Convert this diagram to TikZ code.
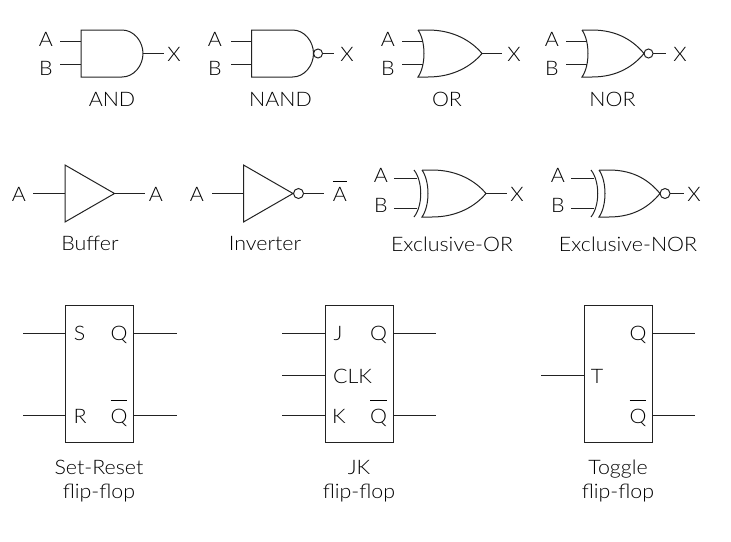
\documentclass[tikz,border=0pt]{standalone}
\usepackage{fontspec}
\setmainfont{Lato Light}[FakeStretch=1.07]
\definecolor{ink}{HTML}{222222}
\newcommand{\overbar}[2][5]{\vbox{\hrule height 0.8pt\kern #1pt\hbox{#2}}}
% OR outline, #1 is the x of the tip
\newcommand{\orbody}[1]{
  \draw[wire] (0,-23.5) -- (10,-23.5)
    .. controls (36,-23.5) and ({#1-10},-12) .. (#1,0)
    .. controls ({#1-10},12) and (36,23.5) .. (10,23.5)
    -- (0,23.5) .. controls (8,12) and (8,-12) .. (0,-23.5);
}
\tikzset{
  wire/.style={draw=ink,line width=1pt},
  pinlabel/.style={text=black,font=\fontsize{20}{24}\selectfont,inner sep=0pt,anchor=base},
  caption/.style={pinlabel,align=center},
  ffbox/.style={draw=ink,line width=1pt,inner sep=0pt,outer sep=0pt,minimum width=68pt,minimum height=137pt},
  andback/.pic={
    \draw[wire] (41,-23.5) -- (0,-23.5) -- (0,23.5) -- (41,23.5)
      .. controls (53,23.5) and (62,12) .. (62,0)
      .. controls (62,-12) and (53,-23.5) .. (41,-23.5);
  },
  andgate/.pic={
    \pic {andback};
    \coordinate (-a) at (0,-12);
    \coordinate (-b) at (0,10.5);
    \coordinate (-x) at (62,0);
  },
  nandgate/.pic={
    \pic {andback};
    \draw[wire] (66.5,0) circle[radius=4.5pt];
    \coordinate (-a) at (0,-12);
    \coordinate (-b) at (0,10.5);
    \coordinate (-x) at (71,0);
  },
  orgate/.pic={
    \orbody{64}
    \coordinate (-a) at (5,-12);
    \coordinate (-b) at (5,10.5);
    \coordinate (-x) at (64,0);
  },
  norgate/.pic={
    \orbody{62}
    \draw[wire] (66.5,0) circle[radius=4.5pt];
    \coordinate (-a) at (5,-12);
    \coordinate (-b) at (5,10.5);
    \coordinate (-x) at (71,0);
  },
  xorgate/.pic={
    \orbody{64}
    \draw[wire] (-8,-23.5) .. controls (1,-12) and (1,12) .. (-8,23.5);
    \coordinate (-a) at (-5,-15.5);
    \coordinate (-b) at (-5,14.5);
    \coordinate (-x) at (64,0);
  },
  xnorgate/.pic={
    \orbody{61}
    \draw[wire] (-8,-23.5) .. controls (1,-12) and (1,12) .. (-8,23.5);
    \draw[wire] (66,0) circle[radius=5pt];
    \coordinate (-a) at (-5,-15.5);
    \coordinate (-b) at (-5,14.5);
    \coordinate (-x) at (71,0);
  },
  buffergate/.pic={
    \draw[wire] (0,-28.5) -- (49.5,0) -- (0,28.5) -- cycle;
    \coordinate (-a) at (0,0);
    \coordinate (-x) at (49.5,0);
  },
  invgate/.pic={
    \draw[wire] (0,-28.5) -- (49.5,0) -- (0,28.5) -- cycle;
    \draw[wire] (55,0) circle[radius=5pt];
    \coordinate (-a) at (0,0);
    \coordinate (-x) at (60,0);
  },
}
\begin{document}
\begin{tikzpicture}[x=1pt,y=-1pt]
\useasboundingbox (0,0) rectangle (731,541);

% first row
\pic (and) at (81,53.5) {andgate};
\pic (nand) at (251.5,53.5) {nandgate};
\pic (or) at (418,53.5) {orgate};
\pic (nor) at (582,53.5) {norgate};
% second row
\pic (buf) at (65,193.5) {buffergate};
\pic (inv) at (243.5,193.5) {invgate};
\pic (xor) at (422,193.5) {xorgate};
\pic (xnor) at (599,193.5) {xnorgate};

\foreach \gate/\inx/\outx in {and/60/164,nand/231/334,or/402/502,nor/566/666,xor/394/507,xnor/571/684}{
  \coordinate (\gate-aend) at (\inx,0 |- \gate-a);
  \coordinate (\gate-bend) at (\inx,0 |- \gate-b);
  \coordinate (\gate-xend) at (\outx,0 |- \gate-x);
  \draw[wire] (\gate-aend) -- (\gate-a);
  \draw[wire] (\gate-bend) -- (\gate-b);
  \draw[wire] (\gate-x) -- (\gate-xend);
}
\foreach \gate/\inx/\outx in {buf/33/145,inv/212/324}{
  \coordinate (\gate-aend) at (\inx,0 |- \gate-a);
  \coordinate (\gate-xend) at (\outx,0 |- \gate-x);
  \draw[wire] (\gate-aend) -- (\gate-a);
  \draw[wire] (\gate-x) -- (\gate-xend);
}

\node[pinlabel] (andA) at (46,46) {A};
\node[pinlabel] (andB) at (46,75.7) {B};
\node[pinlabel] (andX) at (174,61.7) {X};
\node[caption] (andname) at (112,106.7) {AND};
\node[pinlabel] (nandA) at (215,46) {A};
\node[pinlabel] (nandB) at (215,75.7) {B};
\node[pinlabel] (nandX) at (347,61.7) {X};
\node[caption] (nandname) at (280.5,106.7) {NAND};
\node[pinlabel] (orA) at (388,46) {A};
\node[pinlabel] (orB) at (388,75.7) {B};
\node[pinlabel] (orX) at (514,61.7) {X};
\node[caption] (orname) at (447,106.7) {OR};
\node[pinlabel] (norA) at (552,46) {A};
\node[pinlabel] (norB) at (552,75.7) {B};
\node[pinlabel] (norX) at (680,61.7) {X};
\node[caption] (norname) at (612.5,106.7) {NOR};

\node[pinlabel] (bufA) at (19,201) {A};
\node[pinlabel] (bufX) at (156,201) {A};
\node[caption] (bufname) at (90,250.7) {Buffer};
\node[pinlabel] (invA) at (197,201) {A};
\node[pinlabel] (invX) at (340,201) {\overbar{A}};
\node[caption] (invname) at (265,250.7) {Inverter};
\node[pinlabel] (xorA) at (381,182.7) {A};
\node[pinlabel] (xorB) at (381,212.7) {B};
\node[pinlabel] (xorX) at (517,201) {X};
\node[caption] (xorname) at (452,251) {Exclusive-OR};
\node[pinlabel] (xnorA) at (558,182.7) {A};
\node[pinlabel] (xnorB) at (558,212.7) {B};
\node[pinlabel] (xnorX) at (694,201) {X};
\node[caption] (xnorname) at (628,251) {Exclusive-NOR};

% flip-flops
\node[ffbox] (sr) at (99.5,373.5) {};
\node[ffbox] (jk) at (359.5,373.5) {};
\node[ffbox] (tg) at (618,373.5) {};

\foreach \ff/\pin/\xend/\yend in {sr/s/23/333.3,sr/r/23/415.3,jk/j/282/333.3,jk/c/282/375,jk/k/282/415.3,tg/t/541/375}{
  \coordinate (\ff\pin end) at (\xend,\yend);
  \draw[wire] (\ff\pin end) -- (\ff\pin end -| \ff.west);
}
\foreach \ff/\pin/\xend/\yend in {sr/q/177/333.3,sr/n/177/415.3,jk/q/436/333.3,jk/n/436/415.3,tg/q/695/333.3,tg/n/695/415.3}{
  \coordinate (\ff\pin end) at (\xend,\yend);
  \draw[wire] (\ff\pin end -| \ff.east) -- (\ff\pin end);
}

\node[pinlabel] (srS) at (79.5,340) {S};
\node[pinlabel] (srQ) at (119,340) {Q};
\node[pinlabel] (srR) at (80,423.3) {R};
\node[pinlabel] (srN) at (119,423.3) {\overbar[8]{Q}};
\node[caption] (srname) at (99,474.3) {Set-Reset};
\node[caption] (srname2) at (99,498.3) {flip-flop};

\node[pinlabel] (jkJ) at (338,340) {J};
\node[pinlabel] (jkQ) at (378.5,340) {Q};
\node[pinlabel] (jkC) at (352.5,383) {CLK};
\node[pinlabel] (jkK) at (339,423.3) {K};
\node[pinlabel] (jkN) at (378.5,423.3) {\overbar[8]{Q}};
\node[caption] (jkname) at (359,474.3) {JK};
\node[caption] (jkname2) at (359,498.3) {flip-flop};

\node[pinlabel] (tgT) at (597,383) {T};
\node[pinlabel] (tgQ) at (638,340) {Q};
\node[pinlabel] (tgN) at (638,423.3) {\overbar[8]{Q}};
\node[caption] (tgname) at (618,474.3) {Toggle};
\node[caption] (tgname2) at (618,498.3) {flip-flop};
\end{tikzpicture}
\end{document}
